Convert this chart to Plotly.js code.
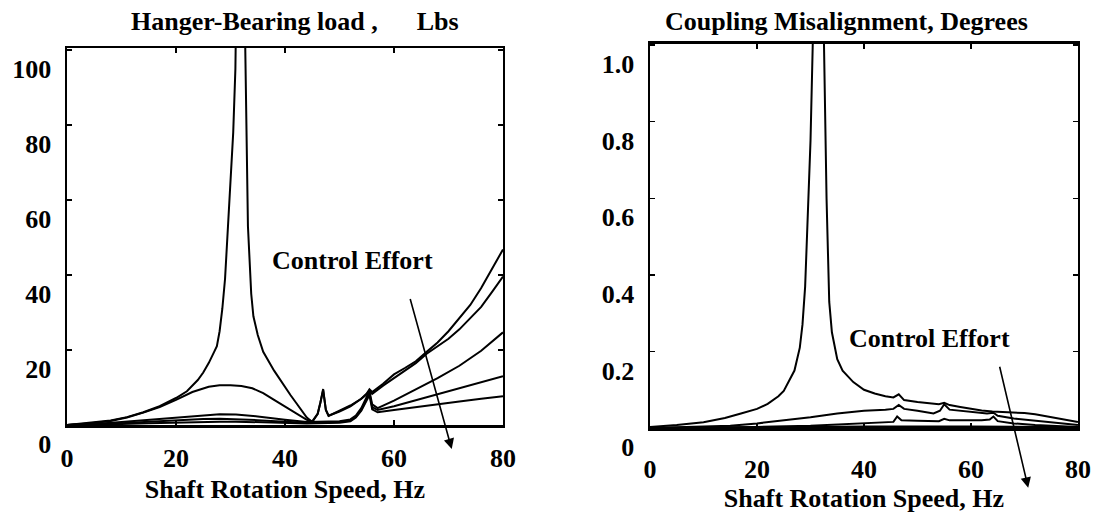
<!DOCTYPE html>
<html>
<head>
<meta charset="utf-8">
<script src="https://cdn.plot.ly/plotly-3.0.1.min.js"></script>
<style>html,body{margin:0;padding:0;background:#fff}#chart{width:1104px;height:518px}</style>
</head>
<body>
<div id="chart"></div>
<script>
// ---- Left panel: Hanger-Bearing load (Lbs) vs shaft speed (Hz) ----
const loadFreqA = [0,4,8,11,14,17,20,22,24,25,26,27,27.5,28,28.5,29,29.5,30,30.5,30.9,31.3,31.8,32.3,32.7,33,33.2,33.8,34.2,35,36,38,40,41,42,43,44,45,46,46.5,47,47.5,48,50,52,54,55,55.5,56,58,60,62,64,66,68,70,72,74,76,78,80];
const loadA = [0,0.5,1.2,2.1,3.4,5,7.2,9,12,14,16.5,19.5,21,25,31,39,52,65,78,95,130,200,140,105,75,53,35,29,24,19.5,14.5,10,8,6,4,2,0.8,3,6,9.6,4,2.4,3.8,5.2,7,8.4,9.5,8.8,11,13.5,15.2,17,19.5,22,25,28.5,32,36.5,41.5,46.8];
const loadFreqB = [0,4,8,11,14,17,20,23,26,28,30,32,34,36,38,40,42,43,44,45,46,46.5,47,47.5,48,50,52,54,55,55.5,56,58,60,62,64,66,68,70,72,74,76,78,80];
const loadB = [0,0.4,1.1,2,3.3,4.8,6.7,8.8,10.2,10.6,10.6,10.4,9.8,8.5,6.7,5,3.2,2.3,1.4,1,3,6,9.3,4,2.5,3.6,5,7,8.2,9.2,8.3,10.5,12.5,14.5,16.5,19,21,23,25.5,28.5,31.5,35.5,39.6];
const loadFreqCDE = [0,5,10,15,20,25,28,31,35,40,44,46,48,50,52,53,54,55,55.5,56,57,60,64,68,72,76,80];
const loadC = [0,0.3,0.8,1.4,2.1,2.7,2.9,2.8,2.3,1.4,0.8,0.9,1,1,1.5,2.5,4.5,7.5,9,5.5,4.5,6.5,9.5,12.5,15.8,19.8,24.7];
const loadD = [0,0.2,0.5,0.9,1.3,1.6,1.7,1.6,1.3,0.9,0.6,0.7,0.8,0.8,1.2,2.2,4,7,8.5,4.8,4,5,6.6,8.2,9.6,11.2,13];
const loadE = [0,0.1,0.3,0.5,0.7,0.9,0.9,0.9,0.7,0.5,0.4,0.5,0.6,0.6,1,2,3.8,6.5,8,4.2,3.4,4,4.8,5.6,6.3,7,7.7];

// ---- Right panel: Coupling misalignment (degrees) vs shaft speed (Hz) ----
const misFreqA = [0,5,10,14,17,20,22,24,25,26,27,28,28.5,29,29.5,30,30.5,31,31.5,32,32.5,33,33.5,34,35,36,38,40,42,44,45.5,46.5,47.5,50,52,54,55,56,58,60,62,64,66,68,70,72,74,76,78,80];
const misA = [0.003,0.008,0.015,0.026,0.038,0.05,0.063,0.083,0.097,0.125,0.15,0.21,0.27,0.37,0.55,0.75,1.05,1.6,1.7,1.3,1.02,0.6,0.33,0.25,0.18,0.15,0.12,0.1,0.09,0.083,0.08,0.088,0.073,0.068,0.065,0.062,0.066,0.06,0.055,0.05,0.046,0.043,0.042,0.04,0.039,0.036,0.031,0.026,0.021,0.016];
const misFreqB = [0,10,15,20,25,30,35,40,44,45.5,46.5,47.5,50,53,54.2,55,56,58,60,63,64.2,65,68,72,76,80];
const misB = [0,0.003,0.006,0.012,0.02,0.028,0.038,0.045,0.048,0.05,0.06,0.05,0.045,0.038,0.045,0.062,0.048,0.045,0.042,0.038,0.04,0.032,0.025,0.02,0.014,0.008];
const misFreqC = [0,10,20,30,40,45.5,46.2,47,50,54,55,56,58,62,63.5,64.2,65,68,72,76,80];
const misC = [0,0.001,0.003,0.006,0.012,0.016,0.03,0.02,0.019,0.018,0.024,0.02,0.02,0.02,0.022,0.03,0.018,0.012,0.008,0.005,0.003];
const misFreqDE = [0,20,40,60,80];
const misD = [0,0.002,0.004,0.004,0.002];
const misE = [0,0.001,0.002,0.002,0.001];

const xTicks = [0,20,40,60,80];
const loadTicks = [0,20,40,60,80,100];
const misTicks = [0,0.2,0.4,0.6,0.8,1.0];
const misTickText = ['0','0.2','0.4','0.6','0.8','1.0'];

const FONT = 'Liberation Serif, Times New Roman, serif';
const bold = (s) => ({family: FONT, size: s, color: '#000', weight: 'bold'});

function line(x, y, xa, ya) {
  return {x: x, y: y, xaxis: xa, yaxis: ya, type: 'scatter', mode: 'lines',
          line: {color: '#000', width: 2}, hoverinfo: 'skip', showlegend: false};
}

const data = [
  line(loadFreqA, loadA, 'x', 'y'),
  line(loadFreqB, loadB, 'x', 'y'),
  line(loadFreqCDE, loadC, 'x', 'y'),
  line(loadFreqCDE, loadD, 'x', 'y'),
  line(loadFreqCDE, loadE, 'x', 'y'),
  line(misFreqA, misA, 'x2', 'y2'),
  line(misFreqB, misB, 'x2', 'y2'),
  line(misFreqC, misC, 'x2', 'y2'),
  line(misFreqDE, misD, 'x2', 'y2'),
  line(misFreqDE, misE, 'x2', 'y2')
];

const axBase = {
  showline: true, mirror: 'ticks', linecolor: '#000', linewidth: 2.5,
  ticks: 'inside', ticklen: 5, tickwidth: 1.5, tickcolor: '#000',
  showgrid: false, zeroline: false, tickfont: bold(26), fixedrange: true
};

const layout = {
  width: 1104, height: 518,
  margin: {l: 0, r: 0, t: 0, b: 0},
  paper_bgcolor: '#fff', plot_bgcolor: '#fff',
  showlegend: false,
  xaxis: Object.assign({}, axBase, {
    domain: [0.0607, 0.4556], anchor: 'y', range: [0, 80], tickvals: xTicks,
    ticklabelstandoff: 8,
    title: {text: 'Shaft Rotation Speed, Hz', font: bold(26), standoff: 8}
  }),
  yaxis: Object.assign({}, axBase, {
    domain: [0.1795, 0.9073], anchor: 'x', range: [0, 100.5], tickvals: loadTicks,
    ticklabelposition: 'outside bottom', ticklabelstandoff: 8
  }),
  xaxis2: Object.assign({}, axBase, {
    domain: [0.5888, 0.9764], anchor: 'y2', range: [0, 80], tickvals: xTicks,
    ticklabelstandoff: 16,
    title: {text: 'Shaft Rotation Speed, Hz', font: bold(26), standoff: 6}
  }),
  yaxis2: Object.assign({}, axBase, {
    domain: [0.1737, 0.9151], anchor: 'x2', range: [0, 1.003], tickvals: misTicks, ticktext: misTickText,
    ticklabelposition: 'outside bottom', ticklabelstandoff: 8
  }),
  annotations: [
    {xref: 'paper', yref: 'paper', x: 0.267, y: 0.958, text: 'Hanger-Bearing load ,\u00a0\u00a0\u00a0\u00a0\u00a0\u00a0Lbs',
     showarrow: false, font: bold(26), xanchor: 'center', yanchor: 'middle'},
    {xref: 'paper', yref: 'paper', x: 0.767, y: 0.958, text: 'Coupling Misalignment, Degrees',
     showarrow: false, font: bold(26), xanchor: 'center', yanchor: 'middle'},
    {xref: 'x', yref: 'y', x: 52.3, y: 43.9, text: 'Control Effort', showarrow: false, font: bold(26)},
    {xref: 'x2', yref: 'y2', x: 52.2, y: 0.235, text: 'Control Effort', showarrow: false, font: bold(26)},
    {xref: 'x', yref: 'y', x: 70.6, y: -6.4, axref: 'x', ayref: 'y', ax: 62.9, ay: 34, text: '',
     showarrow: true, arrowhead: 2, arrowsize: 1.3, arrowwidth: 1.6, arrowcolor: '#000'},
    {xref: 'x2', yref: 'y2', x: 70.7, y: -0.156, axref: 'x2', ayref: 'y2', ax: 65.3, ay: 0.164, text: '',
     showarrow: true, arrowhead: 2, arrowsize: 1.3, arrowwidth: 1.6, arrowcolor: '#000'}
  ]
};

Plotly.newPlot('chart', data, layout, {staticPlot: true, displayModeBar: false});
</script>
</body>
</html>
